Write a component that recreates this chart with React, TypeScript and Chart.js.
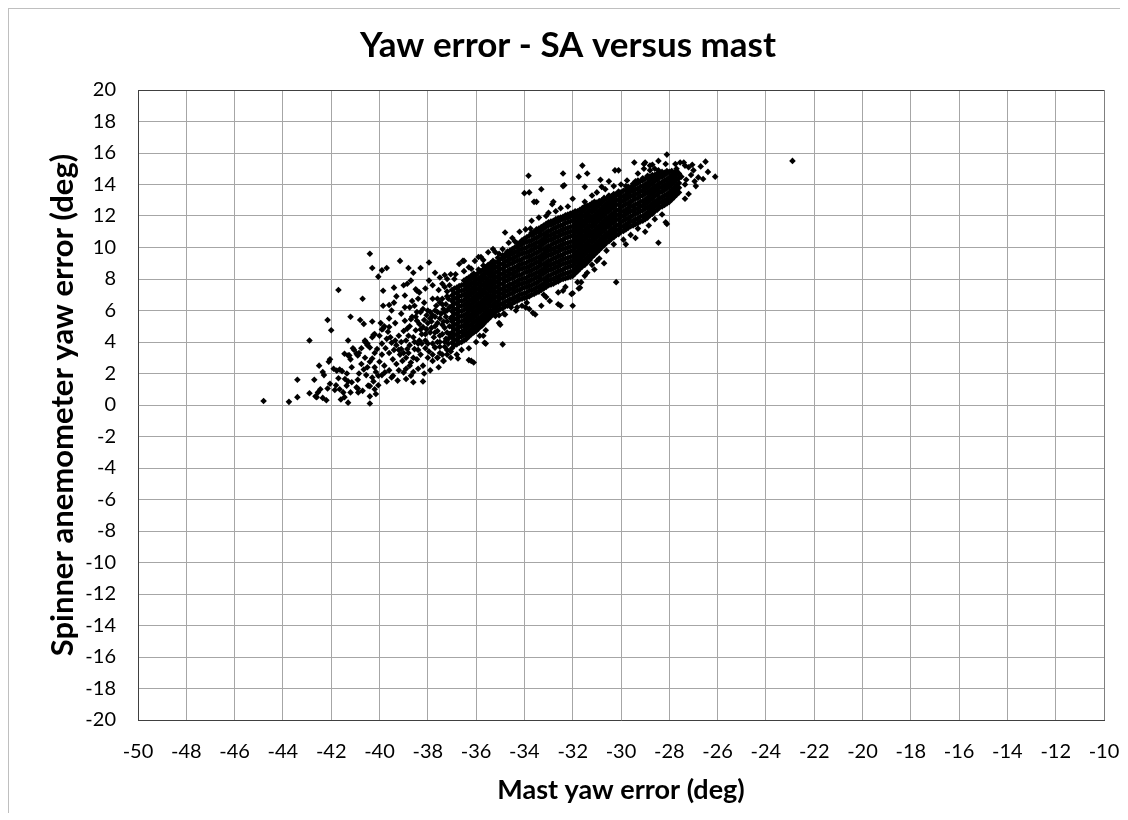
import React, { useEffect, useRef } from "react";
import { Chart, registerables } from "chart.js";

Chart.register(...registerables);

const chartTitle = "Yaw error - SA versus mast";
const xAxisTitle = "Mast yaw error (deg)";
const yAxisTitle = "Spinner anemometer yaw error (deg)";

const xMin = -50;
const xMax = -10;
const yMin = -20;
const yMax = 20;
const tickStep = 2;

// Sparse points, far left of the cloud
const farLeftPoints: [number, number][] = [
  [-44.8,0.25],[-43.75,0.2],[-43.4,0.5],[-43.4,1.6],[-42.9,4.1],[-42.7,1.6],[-42.5,2.5],[-42.35,2.1],[-42.3,1.9],[-42.9,0.75],[-42.65,0.55],[-42.55,0.8],[-42.35,0.45],[-42.2,0.3],[-42.15,1.05],[-42.05,1.35],[-42.05,2.9],[-42.1,2.75],[-42.15,5.4],[-42.0,4.75],[-42.6,0.5],[-42.45,1.0],
  [-41.7,7.3],[-41.2,5.6],[-41.3,4.1],[-41.65,2.25],[-41.55,2.15],[-41.35,2.0],[-41.3,1.5],[-41.8,1.25],[-41.65,1.0],[-41.5,0.8],[-41.3,0.15],[-41.2,0.8],[-41.3,3.15],[-41.2,2.9],[-41.05,3.5],[-41.45,3.25],[-41.25,3.15],[-41.1,3.6],[-41.85,0.95],[-41.45,0.5],[-41.7,1.7],[-41.15,2.4],[-41.9,2.3],[-41.6,0.35],[-41.77,2.18],[-41.43,1.65],[-41.36,1.23],[-41.15,1.44],
];

// Points between -41 and -38
const leftPoints: [number, number][] = [
  [-40.85,3.3],[-40.9,3.15],[-40.8,5.4],[-40.65,5.15],[-40.7,6.75],[-40.6,4.1],[-40.65,2.25],[-40.9,1.6],[-40.9,1.05],[-40.4,9.6],[-40.3,8.7],[-40.3,5.3],[-40.4,3.65],[-40.5,3.9],[-40.5,2.4],[-40.4,1.2],[-40.4,0.55],[-40.4,0.1],[-40.25,1.5],[-40.25,4.45],[-40.1,3.55],[-40.05,8.15],[-40.05,1.25],[-40.75,3.6],[-40.6,4.0],[-40.5,3.8],[-40.95,3.25],[-40.4,2.75],[-40.3,2.95],[-40.0,2.75],[-40.2,4.5],[-40.3,4.3],[-40.0,4.4],[-40.75,2.6],[-40.55,1.9],[-40.15,2.1],[-40.3,1.75],[-40.7,0.9],[-40.15,0.7],[-40.85,2.0],[-40.6,3.0],[-40.2,3.3],[-40.95,1.12],[-40.88,0.8],[-40.47,1.23],[-40.2,1.0],[-40.05,1.86],[-40.2,2.39],
  [-39.9,8.55],[-39.7,8.7],[-39.15,9.15],[-39.85,7.25],[-39.4,7.45],[-39.85,6.3],[-39.6,6.35],[-39.4,6.5],[-39.5,6.0],[-39.95,5.2],[-39.85,4.85],[-39.6,4.95],[-39.65,4.65],[-39.2,4.4],[-39.9,4.8],[-39.8,5.0],[-39.9,3.9],[-39.75,3.6],[-39.6,3.3],[-39.5,3.95],[-39.4,3.5],[-39.3,3.8],[-39.8,2.5],[-39.6,2.2],[-39.45,2.9],[-39.3,2.6],[-39.15,3.2],[-39.1,4.0],[-39.9,1.9],[-39.7,1.5],[-39.5,1.75],[-39.2,2.2],[-39.05,2.8],[-39.9,3.2],[-39.7,4.2],[-39.35,5.2],[-39.1,3.55],[-39.55,4.3],[-39.25,1.55],[-39.0,4.7],[-39.78,2.07],[-39.44,1.86],[-39.0,2.07],[-39.1,5.8],[-39.3,6.9],[-39.0,7.6],[-39.6,5.5],[-39.2,3.5],[-39.35,4.1],[-39.0,3.3],
  [-38.8,8.7],[-38.6,8.4],[-38.3,8.7],[-38.85,7.7],[-38.7,7.9],[-38.5,7.35],[-38.45,7.25],[-38.35,7.15],[-38.1,7.4],[-38.95,6.95],[-38.65,6.6],[-38.4,6.75],[-38.15,6.5],[-38.95,6.2],[-38.75,6.2],[-38.55,6.3],[-38.2,6.1],[-38.95,5.35],[-38.7,5.45],[-38.45,5.35],[-38.35,5.15],[-38.5,4.75],[-38.85,4.85],[-38.05,5.7],[-38.9,4.1],[-38.75,3.8],[-38.6,4.3],[-38.4,3.9],[-38.25,4.5],[-38.1,4.1],[-38.8,3.3],[-38.55,3.55],[-38.3,3.2],[-38.1,3.6],[-38.7,2.7],[-38.45,2.9],[-38.2,2.5],[-38.0,3.0],[-38.9,2.3],[-38.6,2.1],[-38.15,2.0],[-38.05,4.8],[-38.75,5.0],[-38.3,5.9],[-38.0,3.9],[-38.85,3.55],[-38.35,4.1],[-38.7,1.86],[-38.6,1.44],[-38.9,1.65],[-38.2,1.5],[-38.5,5.6],[-38.2,4.95],
  [-38.9,3.0],[-38.6,3.0],[-38.4,3.5],[-38.25,3.9],[-38.1,4.5],[-38.0,5.2],[-38.3,4.8],[-38.55,4.0],[-38.8,4.4],[-38.45,5.9],[-38.65,5.6],[-38.15,5.4],[-38.0,6.0],[-38.4,2.3],[-38.75,2.5],
];

// Points between -38 and -37
const midPoints: [number, number][] = [
  [-37.95,9.05],[-37.7,8.4],[-37.5,8.1],[-37.3,8.25],[-37.05,8.3],[-36.85,8.3],[-37.4,7.7],[-37.95,7.9],[-37.8,6.75],[-37.6,6.75],[-37.4,6.75],[-37.15,6.75],[-37.9,5.9],[-37.8,5.7],[-37.9,5.5],[-37.7,5.6],[-37.85,4.9],[-37.6,5.2],[-37.4,4.5],[-37.25,5.6],[-37.5,4.0],[-37.3,3.7],[-37.75,4.3],[-37.95,3.4],[-37.8,2.8],[-37.55,2.4],[-37.2,3.2],[-37.9,2.2],[-37.65,6.3],[-37.35,6.1],[-37.2,7.2],[-37.55,7.3],[-37.8,7.6],[-37.1,5.0],[-37.45,5.8],[-37.6,4.7],[-37.7,3.65],[-37.6,3.0],[-37.35,2.8],[-37.25,4.2],[-37.5,3.3],[-37.15,3.9],[-37.35,5.3],[-37.7,5.0],[-37.25,6.4],[-37.5,6.5],[-37.1,4.5],[-37.8,3.2],
  [-37.2,3.5],[-37.2,4.6],[-37.2,5.3],[-37.2,6.0],[-37.2,6.9],[-37.3,4.0],[-37.3,4.9],[-37.3,5.9],[-37.4,3.2],[-37.4,5.1],[-37.4,6.4],[-37.5,3.7],[-37.5,4.4],[-37.5,5.5],[-37.6,4.0],[-37.6,5.9],[-37.7,4.6],[-37.7,6.0],[-37.8,3.9],[-37.85,5.3],[-37.9,4.6],[-37.15,4.2],[-37.05,3.4],[-37.05,5.5],[-37.1,6.2],[-37.1,7.6],[-37.3,7.5],
];

// Dense core of the cloud: each entry is a mast value with the SA values read at it
const coreColumns: [number, number[]][] = [
  [-37.0,[3.6,3.95,4.3,4.6,4.95,5.3,5.6,5.95,6.3,6.6,6.95,7.3]],
  [-36.9,[3.8,4.15,4.45,4.8,5.1,5.45,5.8,6.1,6.45,6.75,7.1,7.4]],
  [-36.8,[3.85,4.15,4.5,4.8,5.15,5.5,5.8,6.1,6.45,6.8,7.1,7.45]],
  [-36.7,[3.95,4.3,4.6,4.95,5.3,5.6,5.95,6.25,6.6,6.9,7.25,7.55]],
  [-36.6,[4.0,4.35,4.65,5.0,5.3,5.65,5.95,6.3,6.6,6.95,7.25,7.6]],
  [-36.5,[4.1,4.45,4.75,5.05,5.4,5.7,6.05,6.35,6.65,7.0,7.3,7.65,7.9]],
  [-36.4,[4.2,4.5,4.85,5.2,5.5,5.8,6.15,6.45,6.8,7.1,7.45,7.75,8.0]],
  [-36.3,[4.35,4.65,5.0,5.3,5.65,5.95,6.3,6.6,6.9,7.25,7.55,7.9,8.1]],
  [-36.2,[4.5,4.8,5.1,5.45,5.75,6.1,6.4,6.7,7.05,7.35,7.7,8.0,8.2]],
  [-36.1,[4.6,4.9,5.25,5.55,5.9,6.2,6.5,6.85,7.15,7.5,7.8,8.1,8.35]],
  [-36.0,[4.7,5.05,5.35,5.7,6.0,6.3,6.65,6.95,7.3,7.6,7.95,8.25]],
  [-35.9,[4.85,5.2,5.5,5.85,6.15,6.45,6.8,7.1,7.4,7.75,8.05,8.4,8.6]],
  [-35.8,[5.0,5.3,5.6,5.95,6.25,6.55,6.9,7.2,7.55,7.85,8.15,8.5]],
  [-35.7,[5.15,5.45,5.75,6.1,6.4,6.7,7.05,7.35,7.65,8.0,8.3,8.6,8.85]],
  [-35.6,[5.3,5.6,5.9,6.2,6.55,6.85,7.15,7.5,7.8,8.1,8.45,8.75]],
  [-35.5,[5.45,5.75,6.05,6.4,6.7,7.0,7.35,7.65,7.95,8.3,8.6,8.9]],
  [-35.4,[5.6,5.9,6.25,6.55,6.85,7.2,7.5,7.8,8.15,8.45,8.75,9.0]],
  [-35.3,[5.75,6.05,6.35,6.7,7.0,7.3,7.65,7.95,8.25,8.6,8.9,9.15]],
  [-35.2,[5.9,6.2,6.5,6.85,7.15,7.45,7.8,8.1,8.4,8.75,9.05]],
  [-35.1,[6.0,6.3,6.6,6.9,7.2,7.55,7.85,8.15,8.5,8.8,9.1,9.35]],
  [-35.0,[6.1,6.4,6.75,7.05,7.35,7.7,8.0,8.3,8.65,8.95,9.25]],
  [-34.9,[6.15,6.45,6.8,7.1,7.4,7.7,8.05,8.35,8.65,8.95,9.3,9.5]],
  [-34.8,[6.25,6.55,6.9,7.2,7.5,7.85,8.15,8.45,8.8,9.1,9.4,9.55]],
  [-34.7,[6.3,6.6,6.95,7.25,7.55,7.9,8.2,8.5,8.85,9.15,9.45,9.75]],
  [-34.6,[6.4,6.7,7.05,7.35,7.65,8.0,8.3,8.6,8.95,9.25,9.55,9.8]],
  [-34.5,[6.45,6.75,7.1,7.4,7.7,8.05,8.35,8.65,9.0,9.3,9.6,9.9]],
  [-34.4,[6.55,6.85,7.2,7.5,7.8,8.15,8.45,8.75,9.1,9.4,9.7,10.0]],
  [-34.3,[6.6,6.9,7.25,7.55,7.85,8.2,8.5,8.8,9.15,9.45,9.75,10.05,10.25]],
  [-34.2,[6.7,7.0,7.3,7.65,7.95,8.25,8.6,8.9,9.2,9.55,9.85,10.15,10.3]],
  [-34.1,[6.75,7.05,7.4,7.7,8.0,8.3,8.65,8.95,9.25,9.6,9.9,10.2,10.45]],
  [-34.0,[6.8,7.1,7.45,7.75,8.05,8.4,8.7,9.0,9.35,9.65,9.95,10.3,10.55]],
  [-33.9,[6.85,7.15,7.5,7.8,8.1,8.45,8.75,9.05,9.4,9.7,10.0,10.35,10.65]],
  [-33.8,[6.9,7.25,7.55,7.85,8.2,8.5,8.8,9.15,9.45,9.75,10.1,10.4,10.75]],
  [-33.7,[7.0,7.3,7.6,7.95,8.25,8.55,8.9,9.2,9.5,9.85,10.15,10.45,10.8,10.95]],
  [-33.6,[7.05,7.35,7.7,8.0,8.3,8.65,8.95,9.25,9.6,9.9,10.2,10.55,10.85,11.0]],
  [-33.5,[7.15,7.45,7.75,8.1,8.4,8.7,9.05,9.35,9.65,10.0,10.3,10.6,10.95,11.15]],
  [-33.4,[7.2,7.5,7.85,8.15,8.45,8.8,9.1,9.4,9.75,10.05,10.35,10.7,11.0,11.2]],
  [-33.3,[7.3,7.6,7.95,8.25,8.55,8.9,9.2,9.5,9.85,10.15,10.45,10.8,11.1,11.3]],
  [-33.2,[7.4,7.7,8.0,8.35,8.65,8.95,9.3,9.6,9.9,10.25,10.55,10.85,11.2,11.4]],
  [-33.1,[7.5,7.8,8.1,8.45,8.75,9.05,9.4,9.7,10.0,10.35,10.65,10.95,11.3,11.5]],
  [-33.0,[7.6,7.9,8.2,8.55,8.85,9.15,9.5,9.8,10.1,10.45,10.75,11.05,11.4,11.6]],
  [-32.9,[7.65,7.95,8.25,8.6,8.9,9.2,9.55,9.85,10.15,10.5,10.8,11.1,11.45,11.65]],
  [-32.8,[7.7,8.0,8.35,8.65,8.95,9.3,9.6,9.9,10.25,10.55,10.85,11.2,11.5,11.7]],
  [-32.7,[7.8,8.1,8.4,8.75,9.05,9.35,9.7,10.0,10.3,10.65,10.95,11.25,11.6,11.8]],
  [-32.6,[7.85,8.15,8.5,8.8,9.1,9.45,9.75,10.05,10.4,10.7,11.0,11.35,11.65,11.85]],
  [-32.5,[7.95,8.25,8.55,8.9,9.2,9.5,9.85,10.15,10.45,10.8,11.1,11.4,11.75,11.9]],
  [-32.4,[8.0,8.3,8.6,8.95,9.25,9.55,9.9,10.2,10.5,10.85,11.15,11.45,11.8,11.95]],
  [-32.3,[8.05,8.35,8.7,9.0,9.3,9.65,9.95,10.25,10.6,10.9,11.2,11.55,11.85,12.05]],
  [-32.2,[8.1,8.4,8.75,9.05,9.35,9.7,10.0,10.3,10.65,10.95,11.25,11.6,11.9,12.1]],
  [-32.1,[8.15,8.45,8.8,9.1,9.4,9.75,10.05,10.35,10.7,11.0,11.3,11.65,11.95,12.15]],
  [-32.0,[8.2,8.5,8.85,9.15,9.45,9.8,10.1,10.4,10.75,11.05,11.35,11.7,12.0,12.2]],
  [-31.9,[8.35,8.65,9.0,9.3,9.6,9.95,10.25,10.55,10.9,11.2,11.5,11.85,12.15,12.3]],
  [-31.8,[8.5,8.8,9.1,9.45,9.75,10.05,10.4,10.7,11.0,11.35,11.65,11.95,12.3]],
  [-31.7,[8.65,8.95,9.25,9.6,9.9,10.2,10.55,10.85,11.15,11.5,11.8,12.1,12.4]],
  [-31.6,[8.8,9.1,9.4,9.75,10.05,10.35,10.7,11.0,11.3,11.65,11.95,12.25,12.5]],
  [-31.5,[8.9,9.2,9.55,9.85,10.15,10.5,10.8,11.1,11.45,11.75,12.05,12.4,12.6]],
  [-31.4,[9.05,9.35,9.7,10.0,10.3,10.65,10.95,11.25,11.6,11.9,12.2,12.55,12.65]],
  [-31.3,[9.2,9.5,9.85,10.15,10.45,10.8,11.1,11.4,11.75,12.05,12.35,12.7]],
  [-31.2,[9.4,9.7,10.0,10.35,10.65,10.95,11.3,11.6,11.9,12.25,12.55,12.8]],
  [-31.1,[9.55,9.85,10.15,10.5,10.8,11.1,11.45,11.75,12.05,12.4,12.7,12.9]],
  [-31.0,[9.7,10.0,10.3,10.65,10.95,11.25,11.6,11.9,12.2,12.55,12.85]],
  [-30.9,[9.85,10.15,10.45,10.8,11.1,11.4,11.75,12.05,12.35,12.7,12.95]],
  [-30.8,[10.0,10.3,10.6,10.95,11.25,11.55,11.9,12.2,12.5,12.85,13.0]],
  [-30.7,[10.15,10.45,10.75,11.1,11.4,11.7,12.05,12.35,12.65,13.0,13.15]],
  [-30.6,[10.3,10.6,10.9,11.25,11.55,11.85,12.2,12.5,12.8,13.1]],
  [-30.5,[10.4,10.7,11.0,11.35,11.65,11.95,12.3,12.6,12.9,13.2,13.3]],
  [-30.4,[10.55,10.85,11.15,11.5,11.8,12.1,12.45,12.75,13.05,13.25]],
  [-30.3,[10.65,10.95,11.25,11.6,11.9,12.2,12.55,12.85,13.15,13.4]],
  [-30.2,[10.8,11.1,11.4,11.75,12.05,12.35,12.7,13.0,13.3,13.4]],
  [-30.1,[10.85,11.15,11.45,11.8,12.1,12.4,12.75,13.05,13.35,13.55]],
  [-30.0,[11.0,11.3,11.6,11.95,12.25,12.55,12.9,13.2,13.5]],
  [-29.9,[11.05,11.35,11.7,12.0,12.3,12.65,12.95,13.25,13.6]],
  [-29.8,[11.15,11.45,11.8,12.1,12.4,12.75,13.05,13.35,13.65]],
  [-29.7,[11.25,11.55,11.85,12.2,12.5,12.8,13.15,13.45,13.75,13.85]],
  [-29.6,[11.35,11.65,11.95,12.3,12.6,12.9,13.25,13.55,13.8]],
  [-29.5,[11.4,11.7,12.05,12.35,12.65,13.0,13.3,13.6,13.9,14.05]],
  [-29.4,[11.5,11.8,12.15,12.45,12.75,13.1,13.4,13.7,14.0]],
  [-29.3,[11.55,11.85,12.2,12.5,12.8,13.15,13.45,13.75,14.1,14.25]],
  [-29.2,[11.65,11.95,12.3,12.6,12.9,13.25,13.55,13.85,14.2]],
  [-29.1,[11.7,12.0,12.35,12.65,12.95,13.3,13.6,13.9,14.25,14.4]],
  [-29.0,[11.8,12.1,12.45,12.75,13.05,13.4,13.7,14.0,14.35]],
  [-28.9,[11.9,12.2,12.55,12.85,13.15,13.5,13.8,14.1,14.45,14.55]],
  [-28.8,[12.05,12.35,12.65,13.0,13.3,13.6,13.95,14.25,14.5]],
  [-28.7,[12.15,12.45,12.8,13.1,13.4,13.75,14.05,14.35,14.6]],
  [-28.6,[12.3,12.6,12.9,13.25,13.55,13.85,14.2,14.5,14.6]],
  [-28.5,[12.4,12.7,13.0,13.35,13.65,13.95,14.3,14.6,14.7]],
  [-28.4,[12.55,12.85,13.15,13.5,13.8,14.1,14.45,14.65]],
  [-28.3,[12.6,12.9,13.2,13.55,13.85,14.15,14.5,14.8]],
  [-28.2,[12.7,13.0,13.3,13.65,13.95,14.25,14.6,14.75]],
  [-28.1,[12.8,13.1,13.4,13.75,14.05,14.35,14.7,14.85]],
  [-28.0,[12.9,13.2,13.5,13.85,14.15,14.45,14.8]],
  [-27.9,[13.05,13.35,13.65,14.0,14.3,14.6,14.85]],
  [-27.8,[13.2,13.5,13.8,14.15,14.45,14.75]],
  [-27.7,[13.35,13.65,13.95,14.3,14.6,14.85]],
  [-27.6,[13.5,13.8,14.1,14.4,14.7]],
];

// Scattered points above the dense band
const upperEdgePoints: [number, number][] = [
  [-36.7,8.95],[-36.55,9.15],[-36.5,9.15],[-36.3,8.75],[-36.2,8.65],[-36.05,9.15],[-35.9,9.4],[-35.8,9.4],[-35.5,9.7],[-35.3,9.9],[-35.2,9.7],[-35.05,9.6],[-34.9,9.9],[-34.8,10.95],[-34.65,10.3],[-34.4,10.4],[-34.5,10.6],[-33.95,11.15],[-33.75,11.2],[-33.83,14.56],[-34.0,13.45],[-33.8,13.5],[-33.6,12.9],[-33.5,12.9],[-33.3,13.7],[-33.1,12.0],[-32.8,12.9],[-32.85,12.75],[-32.7,12.3],[-32.4,14.7],[-32.4,13.9],[-32.35,13.95],[-32.0,13.1],[-31.75,14.5],[-31.6,15.2],[-31.4,14.7],[-31.5,13.85],[-31.5,12.9],[-30.85,14.3],[-30.8,13.85],[-30.65,13.7],[-30.25,14.9],[-30.1,14.9],[-29.75,14.25],[-29.8,13.9],[-30.0,14.0],[-29.45,15.4],[-29.4,14.2],[-29.05,15.3],[-29.0,15.4],[-28.8,15.2],[-28.7,15.25],[-28.45,15.5],[-28.45,14.9],[-28.8,14.9],[-28.1,15.9],[-28.15,15.3],[-27.75,15.3],[-27.55,15.4],[-27.35,15.2],[-27.05,15.25],[-26.7,15.15],[-26.5,15.45],[-26.4,14.8],[-26.1,14.5],[-26.6,14.35],[-26.8,14.45],[-26.9,13.9],[-27.2,13.4],[-27.35,13.1],[-27.35,14.0],[-27.0,14.9],[-27.2,15.1],[-27.4,15.4],[-27.1,14.6],[-26.95,14.2],[-27.5,14.5],[-27.3,14.3],[-27.7,15.0],[-29.05,15.0],[-29.3,14.7],[-28.6,15.0],[-30.5,14.2],[-30.3,13.9],[-31.0,13.5],[-31.2,13.3],[-32.2,12.6],[-32.5,12.5],[-33.0,12.2],[-33.4,11.9],[-33.7,11.7],[-34.2,11.0],[-35.7,9.2],[-36.5,8.5],[-36.9,8.0],[-37.2,8.0],
];

// Scattered points below the dense band
const lowerEdgePoints: [number, number][] = [
  [-28.45,10.3],[-28.1,11.5],[-28.15,11.6],[-29.0,11.0],[-28.85,11.4],[-28.3,12.1],[-28.6,11.8],[-29.3,11.2],[-29.6,10.8],[-29.9,10.5],[-30.2,7.8],[-30.3,10.2],[-30.6,9.8],[-30.9,9.3],[-31.0,9.15],[-31.2,8.9],[-31.4,8.4],[-31.75,7.4],[-31.65,7.8],[-31.8,7.8],[-31.7,7.45],[-32.0,7.1],[-32.0,6.3],[-32.05,7.05],[-32.5,6.3],[-32.6,6.4],[-32.6,7.15],[-32.4,7.25],[-33.1,6.85],[-32.95,6.6],[-33.3,6.3],[-33.55,5.75],[-33.65,5.85],[-33.8,6.1],[-33.95,6.2],[-34.3,6.2],[-34.35,6.0],[-34.55,6.2],[-34.6,6.4],[-34.8,5.75],[-35.05,5.2],[-35.0,5.1],[-34.9,3.85],[-35.2,5.65],[-35.05,5.7],[-34.85,5.8],[-35.65,3.95],[-35.7,4.4],[-35.85,4.4],[-35.75,5.05],[-35.6,4.75],[-35.6,3.9],[-36.2,2.8],[-36.1,2.7],[-36.5,5.0],[-36.55,4.6],[-36.45,4.5],[-36.3,2.85],[-36.3,3.6],[-36.0,4.0],[-36.6,3.5],[-36.8,3.2],[-37.05,3.0],[-36.75,2.95],[-37.35,2.8],[-37.6,3.0],[-37.7,3.65],[-31.1,8.6],[-30.7,9.0],[-29.8,10.2],[-29.4,10.6],[-32.3,7.5],[-33.2,7.0],[-33.9,6.5],[-34.1,6.3],[-31.5,8.2],
];

// Isolated outlier
const outlierPoints: [number, number][] = [[-22.9, 15.5]];

const FONT = "Lato, 'Open Sans', sans-serif";
const HIDDEN = "rgba(0,0,0,0)";
const CANVAS_W = 1120;
const CANVAS_H = 805;

export default function App() {
  const canvasRef = useRef<HTMLCanvasElement | null>(null);

  useEffect(() => {
    const canvas = canvasRef.current;
    if (!canvas) return;

    const columnPoints: [number, number][] = [];
    coreColumns.forEach(([x, ys]) => ys.forEach((y) => columnPoints.push([x, y])));

    const allPoints = [
      ...farLeftPoints,
      ...leftPoints,
      ...midPoints,
      ...columnPoints,
      ...upperEdgePoints,
      ...lowerEdgePoints,
      ...outlierPoints,
    ].map(([x, y]) => ({ x, y }));

    const titlePlugin = {
      id: "fixedTitle",
      afterDraw(chart: any) {
        const ctx = chart.ctx;
        ctx.save();
        ctx.font = `bold 35px ${FONT}`;
        ctx.fillStyle = "#000";
        ctx.textAlign = "center";
        ctx.textBaseline = "middle";
        ctx.fillText(chartTitle, 560, 38);
        ctx.restore();
      },
    };

    const chart = new Chart(canvas, {
      type: "scatter",
      data: {
        datasets: [
          {
            data: allPoints,
            pointStyle: "rectRot",
            pointRadius: 3.3,
            pointHoverRadius: 3.3,
            backgroundColor: "#000",
            borderColor: "#000",
            borderWidth: 0,
          },
        ],
      },
      options: {
        animation: false,
        responsive: false,
        events: [],
        layout: { padding: { left: 0, top: 82, right: 24, bottom: 0 } },
        plugins: {
          legend: { display: false },
          tooltip: { enabled: false },
          title: { display: false },
        },
        scales: {
          x: {
            type: "linear",
            min: xMin,
            max: xMax,
            ticks: {
              stepSize: tickStep,
              color: "#000",
              font: { family: FONT, size: 20 },
              padding: 0,
              callback: (v: any) => String(v),
            },
            grid: {
              color: (c: any) => (c.tick && c.tick.value === xMax ? "#7f7f7f" : "#a6a6a6"),
              lineWidth: 1,
              drawTicks: true,
              tickLength: 20,
              tickColor: HIDDEN,
            },
            border: { color: "#404040", width: 1 },
            title: {
              display: true,
              text: xAxisTitle,
              color: "#000",
              font: { family: FONT, size: 27, weight: "bold", lineHeight: 1.2 },
              padding: { top: 0, bottom: 7 },
            },
            afterFit: (s: any) => {
              s.height = 93;
            },
          },
          y: {
            type: "linear",
            min: yMin,
            max: yMax,
            ticks: {
              stepSize: tickStep,
              color: "#000",
              font: { family: FONT, size: 20 },
              padding: 0,
              callback: (v: any) => String(v),
            },
            grid: {
              color: (c: any) => (c.tick && c.tick.value === yMax ? "#404040" : "#a6a6a6"),
              lineWidth: 1,
              drawTicks: true,
              tickLength: 22,
              tickColor: HIDDEN,
            },
            border: { color: "#404040", width: 1 },
            title: {
              display: true,
              text: yAxisTitle,
              color: "#000",
              font: { family: FONT, size: 31, weight: "bold", lineHeight: 1.2 },
              padding: { top: 36, bottom: 0 },
            },
            afterFit: (s: any) => {
              s.width = 130;
            },
          },
        },
      },
      plugins: [titlePlugin],
    } as any);

    return () => chart.destroy();
  }, []);

  return (
    <div style={{ position: "relative", width: CANVAS_W, height: CANVAS_H }}>
      <style>{"html { overflow: hidden; }"}</style>
      <canvas
        ref={canvasRef}
        width={CANVAS_W}
        height={CANVAS_H}
        style={{ position: "absolute", left: 0, top: 0, width: CANVAS_W, height: CANVAS_H }}
      />
      <div
        style={{
          position: "absolute",
          left: 0,
          top: 0,
          width: CANVAS_W,
          height: CANVAS_H,
          borderLeft: "1px solid #bfbfbf",
          borderTop: "1px solid #bfbfbf",
          boxSizing: "border-box",
          pointerEvents: "none",
        }}
      />
    </div>
  );
}
